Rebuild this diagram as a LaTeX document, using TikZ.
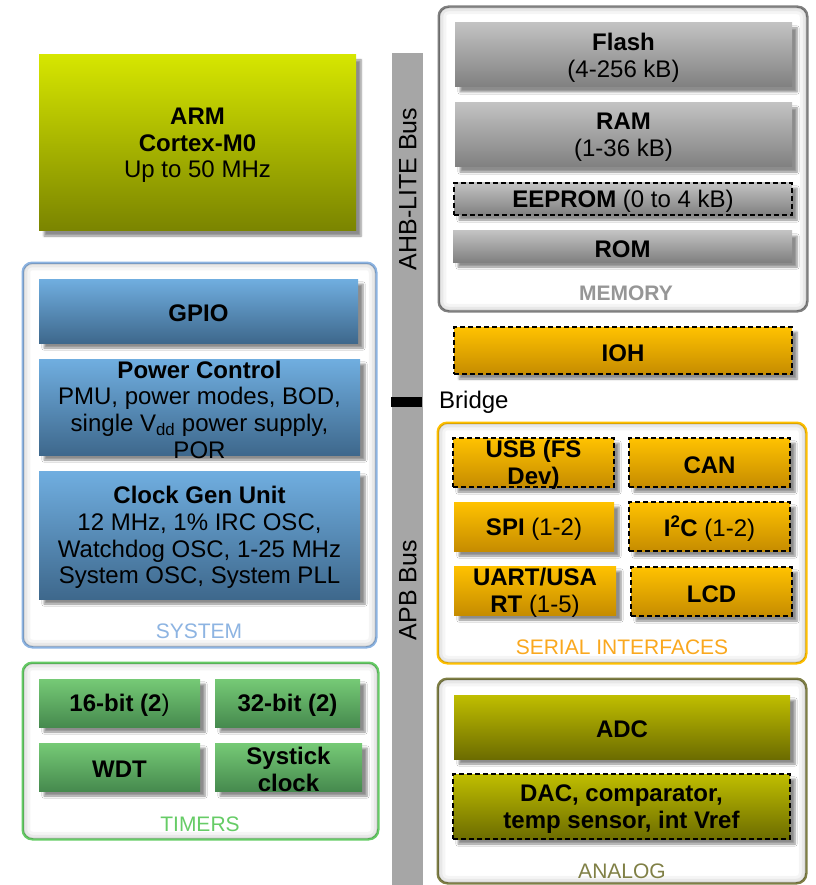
\documentclass[tikz,border=0pt]{standalone}
\usepackage{fontspec}
\setmainfont{Liberation Sans}
\usetikzlibrary{shadows.blur}
\definecolor{armT}{RGB}{214,230,0}
\definecolor{armB}{RGB}{122,132,0}
\definecolor{bluT}{RGB}{112,174,224}
\definecolor{bluB}{RGB}{62,104,140}
\definecolor{grnT}{RGB}{118,202,118}
\definecolor{grnB}{RGB}{70,138,78}
\definecolor{gryT}{RGB}{194,194,194}
\definecolor{gryB}{RGB}{128,128,128}
\definecolor{ornT}{RGB}{255,194,0}
\definecolor{ornB}{RGB}{198,140,0}
\definecolor{olvT}{RGB}{192,190,0}
\definecolor{olvB}{RGB}{108,108,0}
\definecolor{sysC}{RGB}{141,180,226}
\definecolor{tmrC}{RGB}{102,204,102}
\definecolor{memC}{RGB}{128,128,128}
\definecolor{memL}{RGB}{150,150,150}
\definecolor{serC}{RGB}{255,192,0}
\definecolor{serL}{RGB}{250,168,30}
\definecolor{anaC}{RGB}{128,128,70}
\definecolor{busC}{RGB}{166,166,166}
\newcommand\blk[7]{\node[blk,#2,minimum width=#5pt,minimum height=#6pt] (#1) at (#3,#4) {};
  \node[txt] (#1t) at (#1.center) {#7};}
\newcommand\grp[6]{%
  \node[draw=#6, line width=1.5pt, rounded corners=10pt, minimum width=#4pt, minimum height=#5pt, fill=white, inner sep=0pt] (#1) at (#2,#3) {};
  \begin{scope}
    \clip[rounded corners=10pt] (#1.south west) rectangle (#1.north east);
    \foreach \lw/\op in {16/0.04,10/0.05,5/0.07}{\draw[rounded corners=10pt, line width=\lw pt, black, opacity=\op] (#1.south west) rectangle (#1.north east);}
  \end{scope}
  \draw[#6, line width=1.5pt, rounded corners=10pt] (#1.south west) rectangle (#1.north east);}
\begin{document}
\begin{tikzpicture}[x=1pt,y=-1pt,
  blk/.style={inner sep=0pt, blur shadow={shadow xshift=5pt, shadow yshift=-5pt, shadow blur steps=6, shadow opacity=45}},
  dsh/.style={draw=black, line width=1.4pt, dash pattern=on 5pt off 3pt},
  armc/.style={top color=armT, bottom color=armB},
  bluc/.style={top color=bluT, bottom color=bluB},
  grnc/.style={top color=grnT, bottom color=grnB},
  gryc/.style={top color=gryT, bottom color=gryB},
  ornc/.style={top color=ornT, bottom color=ornB},
  olvc/.style={top color=olvT, bottom color=olvB},
  txt/.style={font=\fontsize{24}{26.7}\selectfont, align=center, inner sep=0pt, yshift=-2.5pt},
  grplbl/.style={font=\fontsize{21}{25}\selectfont, inner sep=0pt, yshift=-1pt},
]
\useasboundingbox (0,0) rectangle (815,885);

% bus
\node[fill=busC, minimum width=31pt, minimum height=832pt, inner sep=0pt] (bus) at (407.5,469) {};
\node[font=\fontsize{25}{29}\selectfont, rotate=90, inner sep=0pt] (ahb) at (408,189) {AHB-LITE Bus};
\node[font=\fontsize{25}{29}\selectfont, rotate=90, inner sep=0pt] (apb) at (408,590) {APB Bus};
\node[fill=black, minimum width=31pt, minimum height=10pt, inner sep=0pt] (bridge) at (406.5,402) {};
\node[txt, anchor=west] (bridget) at (439,400) {Bridge};

% ARM
\blk{arm}{armc}{197.5}{143}{317}{176}{\textbf{ARM}\\\textbf{Cortex-M0}\\Up to 50 MHz}

% SYSTEM
\grp{sys}{199.5}{455}{353}{384}{sysC}
\blk{gpio}{bluc}{198.5}{311}{319}{64}{\textbf{GPIO}}
\blk{pwr}{bluc}{199.5}{407}{321}{96}{\textbf{Power Control}\\PMU, power modes, BOD,\\single V\textsubscript{dd} power supply,\\POR}
\blk{clk}{bluc}{199.5}{535}{321}{128}{\textbf{Clock Gen Unit}\\12 MHz, 1\% IRC OSC,\\Watchdog OSC, 1-25 MHz\\System OSC, System PLL}
\node[grplbl, text=sysC] (syslbl) at (199,630) {SYSTEM};

% TIMERS
\grp{tmr}{200.5}{751}{355}{176}{tmrC}
\blk{t16}{grnc}{119.5}{703}{161}{48}{\textbf{16-bit (2})}
\blk{t32}{grnc}{287.5}{703}{145}{48}{\textbf{32-bit (2)}}
\blk{wdt}{grnc}{119.5}{767}{161}{48}{\textbf{WDT}}
\blk{sys}{grnc}{288.5}{767}{147}{48}{\fontsize{24}{29}\selectfont\textbf{Systick}\\\textbf{clock}}
\node[grplbl, text=tmrC] (tmrlbl) at (200,823) {TIMERS};

% MEMORY
\grp{mem}{623}{159}{368}{304}{memC}
\blk{flash}{gryc}{623.5}{55}{337}{64}{\textbf{Flash}\\(4-256 kB)}
\blk{ram}{gryc}{623.5}{135}{337}{64}{\textbf{RAM}\\(1-36 kB)}
\blk{eep}{gryc,dsh}{623}{199}{338}{32}{\textbf{EEPROM} (0 to 4 kB)}
\blk{rom}{gryc}{622.5}{246.5}{339}{31}{\textbf{ROM}}
\node[grplbl, text=memL, font=\fontsize{21}{25}\selectfont\bfseries] (memlbl) at (626,292) {MEMORY};

% IOH
\blk{ioh}{ornc,dsh}{623}{350.5}{338}{47}{\textbf{IOH}}

% SERIAL
\grp{ser}{622}{543}{368}{240}{serC}
\blk{usb}{ornc,dsh}{533.5}{462.5}{161}{49}{\fontsize{24}{28}\selectfont\textbf{USB (FS}\\\textbf{Dev)}}
\blk{can}{ornc,dsh}{709.5}{462.5}{161}{49}{\textbf{CAN}}
\blk{spi}{ornc}{534}{526.5}{160}{49}{\textbf{SPI} (1-2)}
\blk{i2c}{ornc,dsh}{709.5}{526.5}{161}{49}{\textbf{I\textsuperscript{2}C} (1-2)}
\blk{uart}{ornc}{535}{590.5}{162}{49}{\fontsize{24}{25}\selectfont\textbf{UART/USA}\\\textbf{RT} (1-5)}
\blk{lcd}{ornc,dsh}{711.5}{591.5}{161}{49}{\textbf{LCD}}
\node[grplbl, text=serL] (serlbl) at (622,646) {SERIAL INTERFACES};

% ANALOG
\grp{ana}{622}{781}{368}{204}{anaC}
\blk{adc}{olvc}{622}{727}{336}{64}{\textbf{ADC}}
\blk{dac}{olvc,dsh}{621.5}{806.5}{337}{65}{\textbf{DAC, comparator,}\\\textbf{temp sensor, int Vref}}
\node[grplbl, text=anaC] (analbl) at (622,870) {ANALOG};
\end{tikzpicture}
\end{document}
